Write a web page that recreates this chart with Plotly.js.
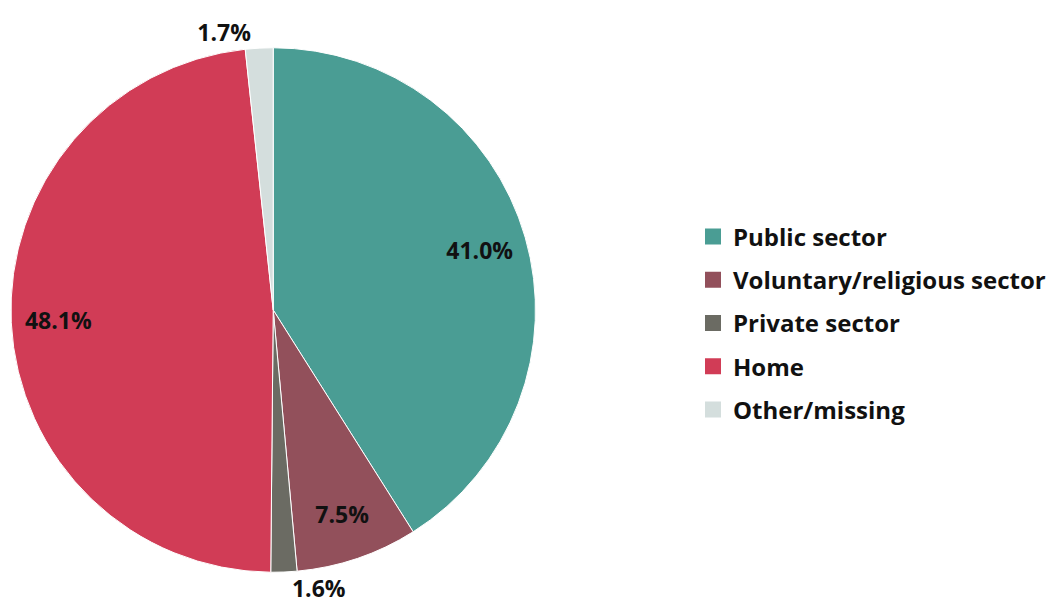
<!DOCTYPE html>
<html><head><meta charset="utf-8">
<script src="https://cdn.plot.ly/plotly-3.0.1.min.js"></script>
<style>html,body{margin:0;padding:0;background:#fff}</style>
</head><body>
<div id="chart" style="width:1051px;height:606px"></div>
<script>
const categories = ["Public sector", "Voluntary/religious sector", "Private sector", "Home", "Other/missing"];
const values = [41.0, 7.5, 1.6, 48.1, 1.7];
const colors = ["#4a9d94", "#92505b", "#6b6b63", "#d13c56", "#d4dedd"];
const textPositions = ["inside", "inside", "outside", "inside", "outside"];

const W = 1051, H = 606, cx = 274, cy = 310, r = 263;
const FONT = "'Open Sans', 'Noto Sans', sans-serif";
const dom = {x: [(cx - r) / W, (cx + r) / W], y: [1 - (cy + r) / H, 1 - (cy - r) / H]};
const labelFont = {family: FONT, size: 23, color: "#111111", weight: "bold"};

const data = [
  {
    type: "pie",
    labels: categories,
    values: values,
    sort: false,
    direction: "clockwise",
    rotation: 0,
    marker: {colors: colors, line: {color: "#ffffff", width: 1}},
    textinfo: "none",
    hoverinfo: "label+percent",
    showlegend: false,
    domain: dom
  },
  {
    type: "pie",
    labels: categories,
    values: values,
    sort: false,
    direction: "clockwise",
    rotation: 0,
    hole: 0.64,
    marker: {colors: categories.map(() => "rgba(0,0,0,0)"), line: {width: 0}},
    texttemplate: "%{value:.1f}%",
    textposition: textPositions,
    insidetextorientation: "horizontal",
    textfont: labelFont,
    insidetextfont: labelFont,
    outsidetextfont: labelFont,
    hoverinfo: "skip",
    showlegend: false,
    domain: dom
  }
].concat(categories.map((c, i) => ({
  type: "scatter",
  mode: "markers",
  x: [null], y: [null],
  name: c,
  legendgroup: "g" + i,
  marker: {symbol: "square", size: 16, color: colors[i]},
  hoverinfo: "skip",
  showlegend: true
})));

const layout = {
  width: W, height: H,
  margin: {l: 0, r: 0, t: 0, b: 0},
  paper_bgcolor: "#ffffff",
  plot_bgcolor: "rgba(0,0,0,0)",
  xaxis: {visible: false, domain: [0.9, 1]},
  yaxis: {visible: false, domain: [0.9, 1]},
  showlegend: true,
  legend: {
    x: 0.6615, y: 0.467, xanchor: "left", yanchor: "middle",
    font: {family: FONT, size: 24, color: "#111111", weight: "bold"},
    tracegroupgap: 9,
    traceorder: "grouped",
    bgcolor: "rgba(0,0,0,0)"
  }
};
Plotly.newPlot("chart", data, layout, {displayModeBar: false, staticPlot: true});
</script>
</body></html>
